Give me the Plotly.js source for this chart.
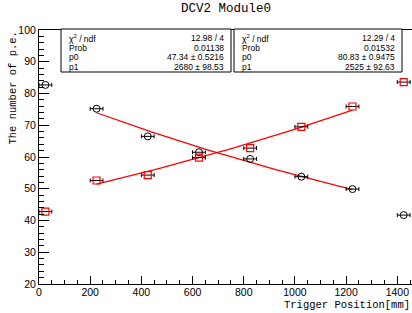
<!DOCTYPE html>
<html><head><meta charset="utf-8">
<script src="https://cdn.plot.ly/plotly-3.0.1.min.js"></script>
<style>html,body{margin:0;padding:0;background:#fff}#c{width:412px;height:313px}</style>
</head><body><div id="c"></div>
<script>
// Data
const xPos = [25, 225, 425, 625, 825, 1025, 1225, 1425];
const xErr = [25, 25, 25, 25, 25, 25, 25, 25];
const circleY = [82.7, 75.2, 66.5, 61.5, 59.4, 53.8, 49.9, 41.7];
const squareY = [42.8, 52.6, 54.3, 59.8, 62.8, 69.5, 75.9, 83.6];
// Fit results shown in the stat boxes (f = p0*exp(±x/p1))
const fitRise = {chi: "12.98 / 4", prob: "0.01138", p0: 47.34, p0e: 0.5216, p1: 2680, p1e: 98.53};
const fitFall = {chi: "12.29 / 4", prob: "0.01532", p0: 80.83, p0e: 0.9475, p1: 2525, p1e: 92.63};
const fitRange = [225, 1225];
const xTicks = [0, 200, 400, 600, 800, 1000, 1200, 1400];
const yTicks = [20, 30, 40, 50, 60, 70, 80, 90, 100];

const L = 39, T = 30, W = 373, H = 254;
const px = v => (v - L) / W;
const py = v => (T + H - v) / H;

function curve(f, sign) {
  const xs = [], ys = [];
  const n = 60;
  for (let i = 0; i <= n; i++) {
    const x = fitRange[0] + (fitRange[1] - fitRange[0]) * i / n;
    xs.push(x);
    ys.push(f.p0 * Math.exp(sign * x / f.p1));
  }
  return {xs, ys};
}
const cr = curve(fitRise, 1), cf = curve(fitFall, -1);

const eb = {type: 'data', array: xErr, visible: true, color: '#000', thickness: 1, width: 2};
const traces = [
  {x: cr.xs, y: cr.ys, mode: 'lines', line: {color: '#ff0000', width: 1.3}, hoverinfo: 'skip'},
  {x: cf.xs, y: cf.ys, mode: 'lines', line: {color: '#ff0000', width: 1.3}, hoverinfo: 'skip'},
  {x: xPos, y: circleY, mode: 'markers', error_x: eb,
   marker: {symbol: 'circle-open', size: 7, color: '#000', line: {width: 1}}},
  {x: xPos, y: squareY, mode: 'markers', error_x: eb,
   marker: {symbol: 'square-open', size: 7, color: '#ff0000', line: {width: 1.2}}}
];

const annos = [];
const shapes = [];
function statBox(x0, x1, f) {
  shapes.push({type: 'rect', xref: 'paper', yref: 'paper', x0: px(x0), x1: px(x1), y0: py(72), y1: py(29),
    line: {color: '#000', width: 1}, fillcolor: '#fff', layer: 'above'});
  const rows = [
    ['χ<sup>2</sup> / ndf', f.chi],
    ['Prob', f.prob],
    ['p0', f.p0 + ' ± ' + f.p0e],
    ['p1', f.p1 + ' ± ' + f.p1e]
  ];
  const ys = [38, 47.5, 57.3, 66.6];
  rows.forEach((r, i) => {
    annos.push({xref: 'paper', yref: 'paper', x: px(x0 + 6), y: py(ys[i]), xanchor: 'left', yanchor: 'middle',
      text: r[0], showarrow: false, font: {family: 'Liberation Sans, Arial, sans-serif', size: 8.5, color: '#000'}});
    annos.push({xref: 'paper', yref: 'paper', x: px(x1 - 5), y: py(ys[i]), xanchor: 'right', yanchor: 'middle',
      text: r[1], showarrow: false, font: {family: 'Liberation Sans, Arial, sans-serif', size: 8.5, color: '#000'}});
  });
}
statBox(61, 231, fitRise);
statBox(234, 402, fitFall);

annos.push({xref: 'paper', yref: 'paper', x: px(226), y: py(9), xanchor: 'center', yanchor: 'middle',
  text: 'DCV2 Module0', showarrow: false, font: {family: 'Liberation Mono, DejaVu Sans Mono, monospace', size: 12.5, color: '#000'}});
annos.push({xref: 'paper', yref: 'paper', x: px(12), y: py(30), xanchor: 'center', yanchor: 'top', textangle: -90,
  text: 'The number of p.e.', showarrow: false, font: {family: 'Liberation Mono, DejaVu Sans Mono, monospace', size: 10.5, color: '#000'}});
annos.push({xref: 'paper', yref: 'paper', x: px(412), y: py(304.5), xanchor: 'right', yanchor: 'middle',
  text: 'Trigger Position[mm]', showarrow: false, font: {family: 'Liberation Mono, DejaVu Sans Mono, monospace', size: 10.5, color: '#000'}});

const tickFont = {family: 'Liberation Sans, Arial, sans-serif', size: 10.5, color: '#000'};
const layout = {
  width: 412, height: 313,
  margin: {l: L, r: 0, t: T, b: 313 - T - H, pad: 0},
  paper_bgcolor: '#fff', plot_bgcolor: '#fff',
  showlegend: false,
  xaxis: {range: [0, 1400 * W / 358.3], tickvals: xTicks, ticktext: xTicks.map(String),
    ticks: 'inside', ticklen: 8, tickwidth: 1, tickcolor: '#000', ticklabelstandoff: -2,
    minor: {dtick: 50, tick0: 0, ticks: 'inside', ticklen: 4, tickwidth: 1, tickcolor: '#000', showgrid: false},
    showline: true, linecolor: '#000', linewidth: 1, mirror: true,
    showgrid: false, zeroline: false, tickfont: tickFont},
  yaxis: {range: [20, 100], tickvals: yTicks, ticktext: yTicks.map(String),
    ticks: 'inside', ticklen: 10, tickwidth: 1, tickcolor: '#000',
    minor: {dtick: 2, tick0: 0, ticks: 'inside', ticklen: 5, tickwidth: 1, tickcolor: '#000', showgrid: false},
    showline: true, linecolor: '#000', linewidth: 1,
    showgrid: false, zeroline: false, tickfont: tickFont},
  shapes: shapes,
  annotations: annos
};
Plotly.newPlot('c', traces, layout, {staticPlot: true, displayModeBar: false});
</script>
</body></html>
